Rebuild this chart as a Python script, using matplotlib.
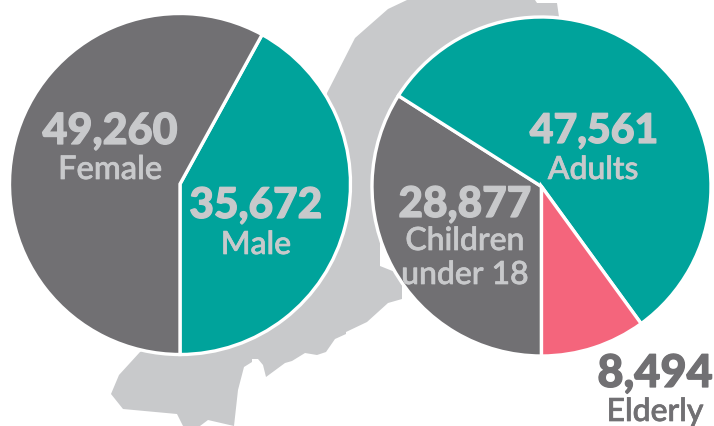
import matplotlib.pyplot as plt
import matplotlib.patheffects as pe
from matplotlib.patches import Polygon

W = 714
H = 426

gender_values = [35672, 49260]
gender_colors = ['#00a39b', '#717073']
age_values = [28877, 47561, 8494]
age_colors = ['#717073', '#00a39b', '#f4657c']

map_x = [327, 355, 388, 407, 535, 537, 557, 559, 470, 400, 380, 380, 395, 402, 402, 388, 367, 346, 346, 335, 326, 317,
         305, 292, 285, 266, 263, 258, 252, 252, 244, 238, 234, 208, 200, 183, 177, 123, 111, 119, 140, 250, 320]
map_y = [93, 38, 9, 0, 0, 3, 3, 17, 60, 150, 240, 266, 272, 285, 299, 303, 322, 332, 334, 339, 352, 355,
         353, 361, 363, 377, 365, 359, 359, 362, 367, 390, 426, 420, 426, 426, 414, 409, 394, 375, 352, 300, 180]

fig = plt.figure(figsize=(W / 100, H / 100), dpi=100)
ax = fig.add_axes([0, 0, 1, 1])

ax.add_patch(Polygon(list(zip(map_x, [H - y for y in map_y])), closed=True, fc='#c8c9cb', ec='none', zorder=0))

wedge = {'edgecolor': 'white', 'linewidth': 2.4, 'zorder': 2}
ax.pie(gender_values, colors=gender_colors, center=(180, H - 184), radius=170.5,
       startangle=-90, wedgeprops=wedge, frame=True)
ax.pie(age_values, colors=age_colors, center=(541.5, H - 186.5), radius=169.5,
       startangle=-90, counterclock=False, wedgeprops=wedge, frame=True)

ax.set_xlim(0, W)
ax.set_ylim(0, H)
ax.set_aspect('equal')
ax.axis('off')

light = '#c8c9cb'
dark = '#717073'


def number(x, y, s, size, color=light):
    t = ax.text(x, H - y, s, color=color, family='Lato', weight='black', fontsize=size,
                ha='center', va='center', zorder=5)
    t.set_path_effects([pe.withStroke(linewidth=0.9, foreground=color)])


def label(x, y, s, size=23, color=light):
    t = ax.text(x, H - y, s, color=color, family='Lato', weight='medium', fontsize=size,
                ha='center', va='center', zorder=5)
    t.set_path_effects([pe.withStroke(linewidth=0.5, foreground=color)])


number(110, 131, '49,260', 31)
label(110, 170, 'Female', 23.5)
number(256, 206, '35,672', 30.5)
label(256, 245, 'Male')
number(594, 131, '47,561', 29.5)
label(593, 170, 'Adults')
number(465, 205, '28,877', 30.5)
label(465, 241, 'Children')
label(465, 275, 'under 18')
number(655, 374, '8,494', 32.5, dark)
label(655, 412, 'Elderly', 23, dark)

fig.savefig('out.png', dpi=100)
